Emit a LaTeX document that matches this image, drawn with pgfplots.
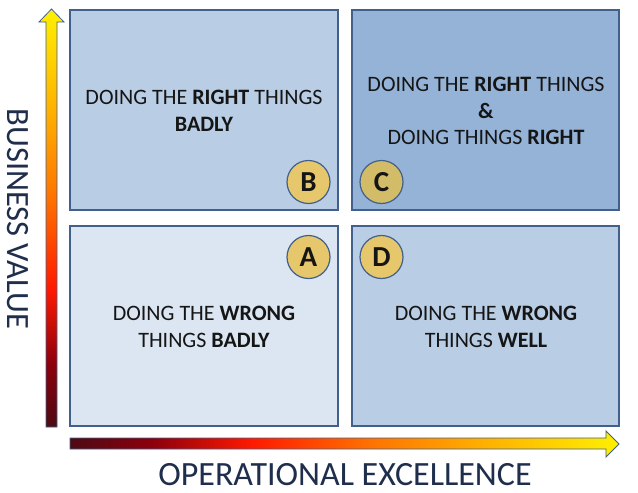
\documentclass[border=0pt]{standalone}
\usepackage{pgfplots}
\pgfplotsset{compat=1.18}
\usepackage{fontspec}
\setmainfont{Carlito}
\definecolor{boxA}{HTML}{DCE6F2}
\definecolor{boxB}{HTML}{B9CDE5}
\definecolor{boxC}{HTML}{95B3D7}
\definecolor{boxD}{HTML}{B9CDE5}
\definecolor{edge}{HTML}{41608C}
\definecolor{gold}{HTML}{E6C76C}
\definecolor{goldC}{HTML}{D2BC68}
\definecolor{ttl}{HTML}{1F2E4C}
\definecolor{txt}{HTML}{151515}
\definecolor{h0}{RGB}{77,10,20}
\definecolor{h1}{RGB}{140,0,12}
\definecolor{h2}{RGB}{255,25,0}
\definecolor{h3}{RGB}{255,115,0}
\definecolor{h4}{RGB}{255,175,0}
\definecolor{h5}{RGB}{255,240,0}
\pgfdeclarehorizontalshading{heat}{100bp}{color(0bp)=(h0); color(25bp)=(h0); color(32.5bp)=(h1); color(41.5bp)=(h2); color(52.5bp)=(h3); color(62.5bp)=(h4); color(75bp)=(h5); color(100bp)=(h5)}
\newcommand{\bx}{\fontsize{22}{26}\selectfont}
\begin{document}
\begin{tikzpicture}
\begin{axis}[
  width=638pt, height=493pt, scale only axis,
  xmin=0, xmax=638, ymin=0, ymax=493, y dir=reverse,
  axis lines=none, clip=false,
]
% background
\addplot[fill=white, draw=none] coordinates {(0,0) (638,0) (638,493) (0,493)} -- cycle;
% quadrants
\addplot[fill=boxB, draw=edge, line width=1.2pt] coordinates {(70,10) (338,10) (338,210) (70,210)} -- cycle;
\addplot[fill=boxC, draw=edge, line width=1.2pt] coordinates {(352,10) (619,10) (619,210) (352,210)} -- cycle;
\addplot[fill=boxA, draw=edge, line width=1.2pt] coordinates {(70,226) (338,226) (338,426) (70,426)} -- cycle;
\addplot[fill=boxD, draw=edge, line width=1.2pt] coordinates {(352,226) (619,226) (619,426) (352,426)} -- cycle;
% arrows
\addplot[draw=edge, line width=0.8pt, shading=heat, shading angle=90] coordinates {(46,427) (57,427) (57,22) (64,22) (51.5,9) (39,22) (46,22)} -- cycle;
\addplot[draw=edge, line width=0.8pt, shading=heat, shading angle=0] coordinates {(70,438) (606,438) (606,431) (619,444) (606,457) (606,449) (70,449)} -- cycle;
% circles with letters
\addplot[only marks, mark=*, mark size=21.5pt, mark options={fill=gold, draw=edge, line width=1.2pt},
  point meta=explicit symbolic,
  nodes near coords={\fontsize{29}{30}\selectfont\bfseries\pgfplotspointmeta},
  every node near coord/.append style={anchor=center, text=txt}]
  coordinates {(308.5,182) [B] (308.5,257) [A] (381.5,257) [D]};
\addplot[only marks, mark=*, mark size=21.5pt, mark options={fill=goldC, draw=edge, line width=1.2pt},
  point meta=explicit symbolic,
  nodes near coords={\fontsize{29}{30}\selectfont\bfseries\pgfplotspointmeta},
  every node near coord/.append style={anchor=center, text=txt}]
  coordinates {(381.5,182) [C]};
% quadrant texts
\node[font=\bx, text=txt, anchor=base] at (axis cs:204,104) {DOING THE \textbf{RIGHT} THINGS};
\node[font=\bx, text=txt, anchor=base] at (axis cs:204,131) {\textbf{BADLY}};
\node[font=\bx, text=txt, anchor=base] at (axis cs:486,91) {DOING THE \textbf{RIGHT} THINGS};
\node[font=\bx, text=txt, anchor=base] at (axis cs:486,118) {\textbf{\&}};
\node[font=\bx, text=txt, anchor=base] at (axis cs:486,144) {DOING THINGS \textbf{RIGHT}};
\node[font=\bx, text=txt, anchor=base] at (axis cs:204,320) {DOING THE \textbf{WRONG}};
\node[font=\bx, text=txt, anchor=base] at (axis cs:204,347) {THINGS \textbf{BADLY}};
\node[font=\bx, text=txt, anchor=base] at (axis cs:486,320) {DOING THE \textbf{WRONG}};
\node[font=\bx, text=txt, anchor=base] at (axis cs:486,347) {THINGS \textbf{WELL}};
% axis titles
\node[font=\fontsize{32.5}{34}\selectfont, text=ttl, rotate=-90, anchor=base] at (axis cs:7,219) {BUSINESS VALUE};
\node[font=\fontsize{34}{36}\selectfont, text=ttl, anchor=base] at (axis cs:345,485) {OPERATIONAL EXCELLENCE};
\end{axis}
\end{tikzpicture}
\end{document}
